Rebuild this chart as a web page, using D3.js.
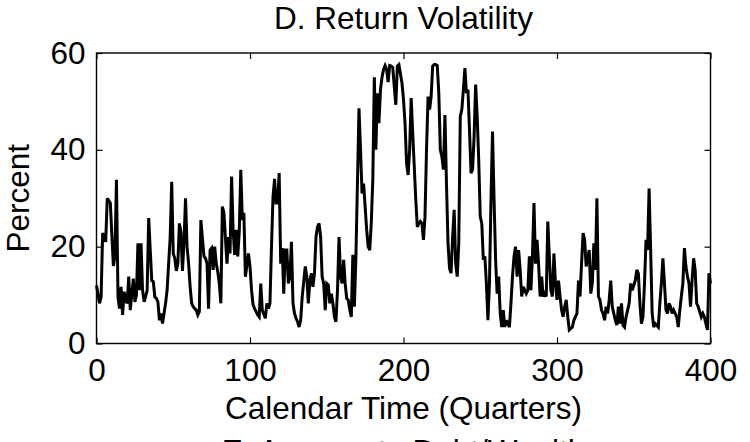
<!DOCTYPE html>
<html>
<head>
<meta charset="utf-8">
<script src="https://cdn.jsdelivr.net/npm/d3@7"></script>
<style>
  html, body { margin: 0; padding: 0; background: #fff; }
  svg { display: block; }
  text { font-family: "Liberation Sans", Arial, Helvetica, sans-serif; fill: #000; }
</style>
</head>
<body>
<svg id="chart" width="750" height="442"></svg>
<script>
const title = "D. Return Volatility";
const nextTitle = "E. Aggregate Debt/Wealth";
const xLabel = "Calendar Time (Quarters)";
const yLabel = "Percent";
const xTicks = [0, 100, 200, 300, 400];
const yTicks = [0, 20, 40, 60];

const quarters = [
  0,2,3,4,6,7,9,11,12,13,14,15,16,17,18,19,20,21,22,24,25,26,27,28,29,30,31,32,33,34,36,37,38,39,40,
  41,42,43,44,45,46,48,49,50,51,52,53,54,55,56,57,58,59,60,61,62,63,64,65,66,67,68,70,71,72,73,74,75,76,77,78,79,80,
  81,82,83,85,86,87,88,89,90,91,92,93,94,95,96,97,99,100,101,102,103,104,105,106,107,108,110,111,112,113,114,115,116,117,118,119,120,
  121,122,123,124,125,126,127,128,129,130,131,132,133,134,136,137,138,139,140,141,142,143,144,145,146,147,148,149,150,151,152,153,154,155,156,157,158,159,160,
  161,162,163,164,165,166,167,168,169,171,172,173,174,175,176,177,178,179,180,181,182,183,184,185,186,187,188,189,190,191,192,193,194,195,196,197,199,200,
  201,202,203,204,205,206,207,208,209,210,211,212,213,214,215,216,217,218,219,220,221,222,223,224,225,226,227,228,229,230,231,232,233,234,235,236,
  237,238,239,240,241,242,243,244,245,246,247,248,249,250,251,252,253,254,255,256,257,258,259,260,261,262,263,264,265,266,267,268,269,270,
  271,272,273,274,275,276,277,278,280,281,282,283,284,285,286,287,288,289,290,291,292,293,294,295,296,297,298,299,300,
  301,302,303,304,305,306,307,308,310,311,312,313,314,315,316,317,318,319,321,322,323,324,325,326,327,328,329,330,
  331,332,333,334,335,336,338,339,340,341,342,343,344,345,346,347,348,349,351,352,353,354,355,356,357,358,359,360,
  361,362,363,364,366,367,368,369,370,371,372,373,374,375,376,378,379,380,381,382,383,384,385,386,387,388,389,390,
  391,392,394,395,396,397,398,399,400
];
const volatility = [
  12,8.3,9.6,22.8,21,30,29,16,18,33.8,9.6,7.2,11.7,5.9,10.7,9,8.3,13.8,6.9,13.4,8.6,10,20.7,11,20.7,11,8.6,9.7,11,25.9,13,12.8,9.6,9.3,8.6,
  4.8,6.2,4.1,6.2,8.3,11,22,33.4,18.6,17.6,15,16.5,24.8,23,15,21,30,20,16.5,11.7,8.3,7.6,7.2,6.9,5.9,6.6,25.5,18,17.6,16.5,7.2,19.3,19.7,15.2,20,16.5,14.8,12.4,
  8.3,28.3,27,16.5,22,18.6,34.5,23.5,18.3,23.5,18,23,35.9,25.5,27,13.8,18.6,15.9,11,8,7.2,6.6,5.9,5.5,12.4,6.9,5.2,8.3,7.2,8.3,20,30.3,34,29,29,35.2,16.5,
  19.7,10.3,19.3,19.3,12.4,13.8,21,8.3,6.2,5.2,4.5,3.4,4.8,9.6,15.9,13.8,8.3,13,14.5,11.7,14.5,22,24.1,24.8,22,13.8,12.4,6.9,12.4,12.1,8.3,10.3,8.3,5.5,4.5,11,22,13.8,12.4,
  17.3,12.4,9.3,9,6.9,5.5,18.3,7.6,18,48.6,40,31,33,28.3,23.5,20,19.3,24.8,33.8,55,40,51.7,45.5,52.4,55,56.6,57.4,56.6,54,57.4,57.3,57,53,49.3,57.3,57.6,53.8,50.4,
  45.5,37.2,34.8,40,50.7,43.4,36.6,29.7,24.1,24.8,25.2,24.8,21.4,26.2,40,51,48.3,51,57.3,57.6,57.6,57.4,51.7,40,38.6,35.9,47.2,33,20.7,15.5,14.5,22,27.6,16.5,13.8,20.7,
  46.9,48.3,52.4,56.9,51.7,52.4,44,35.2,35.9,42.8,53.5,46.9,37.9,26.2,24.8,17.3,18,12.4,4.8,12.4,29.7,43.8,29.7,17.3,10.3,13.8,6.2,3.4,6.9,3.4,4.8,4.1,3.4,8.3,
  13.8,18,20,13.8,19.3,15.2,9.7,11.7,10.3,11,18,11,18,29,16.5,21.4,16.5,9.7,13.8,9.7,10.3,9.7,25.2,18,11,9.7,18.6,12.4,9,
  13,9.7,6.9,5.5,7.6,9,5.5,2.8,3.4,4.8,5.5,6.2,13,9.7,16.5,22.8,21.4,15.9,19.3,10.3,12.4,20.7,15.2,30,9.7,9,6.9,6.2,
  4.8,7.6,6.2,9,13,7.6,4.8,3.8,7.6,4.1,8.3,3.8,3.4,5.5,6.9,8.3,12.4,11,13,15.2,14.5,8.3,4.1,5.5,12.4,21.4,19.3,32,
  19.3,6.2,3.4,4.1,3.4,8.3,12.4,17.6,12.4,6.9,6.2,8.3,7.6,6.2,6.9,5.5,3.4,6.9,9.7,12.4,19.7,15.9,13.8,12.4,7.6,13,17.6,15.2,
  8.3,7.6,5.5,6.2,5.5,4.1,2.8,14.5,12.4
];

const W = 750, H = 442;
const plot = { left: 96.5, right: 710.5, top: 53, bottom: 343.5 };
const fontSize = 31.5;

const svg = d3.select("#chart");

const x = d3.scaleLinear().domain([0, 400]).range([plot.left, plot.right]);
const y = d3.scaleLinear().domain([0, 60]).range([plot.bottom, plot.top]);

const data = quarters.map((q, i) => ({ q, v: volatility[i] }));

// data line
const line = d3.line().x(d => x(d.q)).y(d => y(d.v));
svg.append("path")
  .datum(data)
  .attr("d", line)
  .attr("fill", "none")
  .attr("stroke", "#000")
  .attr("stroke-width", 3)
  .attr("stroke-linejoin", "miter")
  .attr("stroke-miterlimit", 3);

// axes (inward ticks, box)
const tickLen = 6;
const styleAxis = g => {
  g.select(".domain").remove();
  g.selectAll(".tick line").attr("stroke", "#000").attr("stroke-width", 1.2);
  g.selectAll("text").attr("font-size", fontSize).attr("fill", "#000")
    .style("font-family", '"Liberation Sans", Arial, Helvetica, sans-serif');
};

svg.append("g")
  .attr("transform", `translate(0,${plot.bottom})`)
  .call(d3.axisBottom(x).tickValues(xTicks).tickSize(-tickLen).tickPadding(15))
  .call(styleAxis);

svg.append("g")
  .attr("transform", `translate(0,${plot.top})`)
  .call(d3.axisTop(x).tickValues(xTicks).tickSize(-tickLen).tickFormat(""))
  .call(styleAxis);

svg.append("g")
  .attr("transform", `translate(${plot.left},0)`)
  .call(d3.axisLeft(y).tickValues(yTicks).tickSize(-tickLen).tickPadding(11))
  .call(styleAxis);

svg.append("g")
  .attr("transform", `translate(${plot.right},0)`)
  .call(d3.axisRight(y).tickValues(yTicks).tickSize(-tickLen).tickFormat(""))
  .call(styleAxis);

// box
svg.append("rect")
  .attr("x", plot.left).attr("y", plot.top)
  .attr("width", plot.right - plot.left).attr("height", plot.bottom - plot.top)
  .attr("fill", "none").attr("stroke", "#000").attr("stroke-width", 1.4);

const cx = (plot.left + plot.right) / 2;

svg.append("text")
  .attr("x", cx).attr("y", 29)
  .attr("text-anchor", "middle").attr("font-size", fontSize)
  .text(title);

svg.append("text")
  .attr("x", cx).attr("y", 419)
  .attr("text-anchor", "middle").attr("font-size", fontSize)
  .text(xLabel);

svg.append("text")
  .attr("transform", `translate(29,${(plot.top + plot.bottom) / 2}) rotate(-90)`)
  .attr("text-anchor", "middle").attr("font-size", fontSize)
  .text(yLabel);

// top of the next panel's title, cut off by the picture's lower edge as in the reference
svg.append("text")
  .attr("x", cx).attr("y", 462)
  .attr("text-anchor", "middle").attr("font-size", fontSize)
  .text(nextTitle);
</script>
</body>
</html>
